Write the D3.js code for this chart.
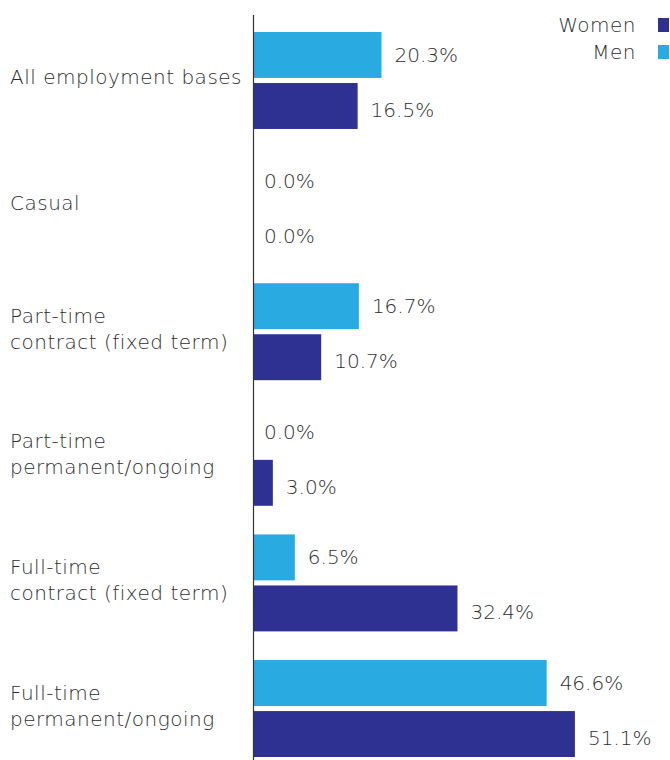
<!DOCTYPE html>
<html>
<head>
<meta charset="utf-8">
<script src="https://cdn.jsdelivr.net/npm/d3@7"></script>
<style>
  html, body { margin: 0; padding: 0; background: #fff; }
  svg text { font-family: "DejaVu Sans", sans-serif; font-weight: 300; fill: #2e2e2e; }
</style>
</head>
<body>
<svg id="chart" width="670" height="760"></svg>
<script>
// Employment basis categories, each possibly split over two lines
const categories = [
  ["All employment bases"],
  ["Casual"],
  ["Part-time", "contract (fixed term)"],
  ["Part-time", "permanent/ongoing"],
  ["Full-time", "contract (fixed term)"],
  ["Full-time", "permanent/ongoing"]
];
const seriesNames = ["Men", "Women"];
const menValues = [20.3, 0.0, 16.7, 0.0, 6.5, 46.6];
const womenValues = [16.5, 0.0, 10.7, 3.0, 32.4, 51.1];
const legendOrder = ["Women", "Men"];

const colors = { Men: "#29abe2", Women: "#2e3192" };

const svg = d3.select("#chart");
const keys = categories.map(c => c.join(" "));

const x = d3.scaleLinear().domain([0, 100]).range([254, 882]);
const y = d3.scaleBand().domain(keys).range([32, 757]).paddingInner(0.228).paddingOuter(0);
const ySub = d3.scaleBand().domain(seriesNames).range([0, y.bandwidth()]).paddingInner(0.1);

const rows = categories.map((c, i) => ({
  key: keys[i],
  lines: c,
  values: { Men: menValues[i], Women: womenValues[i] }
}));

const groups = svg.selectAll("g.group").data(rows).join("g")
  .attr("class", "group")
  .attr("transform", d => `translate(0,${y(d.key)})`);

// bars
groups.selectAll("rect").data(d => seriesNames.map(s => ({ s, v: d.values[s] }))).join("rect")
  .attr("x", x(0))
  .attr("y", d => ySub(d.s))
  .attr("width", d => x(d.v) - x(0))
  .attr("height", ySub.bandwidth())
  .attr("fill", d => colors[d.s]);

// value labels (the lower bar's label sits a little below its bar centre)
groups.selectAll("text.val").data(d => seriesNames.map(s => ({ s, v: d.values[s] }))).join("text")
  .attr("class", "val")
  .attr("x", d => x(d.v) + (d.v === 0 ? 10 : 13))
  .attr("y", d => ySub(d.s) + ySub.bandwidth() / 2 + (d.s === "Women" ? 4 : 0))
  .attr("dy", "0.35em")
  .style("font-size", "20px")
  .text(d => d.v.toFixed(1) + "%");

// category labels
groups.append("text")
  .attr("class", "cat")
  .attr("y", d => y.bandwidth() / 2 - 3 - (d.lines.length - 1) * 13)
  .style("font-size", "20px")
  .style("letter-spacing", "0.5px")
  .selectAll("tspan").data(d => d.lines).join("tspan")
  .attr("x", 10)
  .attr("dy", (d, i) => i === 0 ? "0.35em" : "26px")
  .text(d => d);

// vertical baseline
svg.append("line")
  .attr("x1", x(0) - 0.5).attr("x2", x(0) - 0.5)
  .attr("y1", 15).attr("y2", 760)
  .attr("stroke", "#333").attr("stroke-width", 1.2);

// legend
const legend = svg.selectAll("g.legend").data(legendOrder).join("g")
  .attr("class", "legend")
  .attr("transform", (d, i) => `translate(0,${18 + i * 27})`);
legend.append("text")
  .attr("x", 636).attr("y", 7).attr("dy", "0.35em")
  .attr("text-anchor", "end")
  .style("font-size", "20px")
  .style("letter-spacing", "0.5px")
  .text(d => d);
legend.append("rect")
  .attr("x", 658).attr("y", 0)
  .attr("width", 11).attr("height", 14)
  .attr("fill", d => colors[d]);
</script>
</body>
</html>
